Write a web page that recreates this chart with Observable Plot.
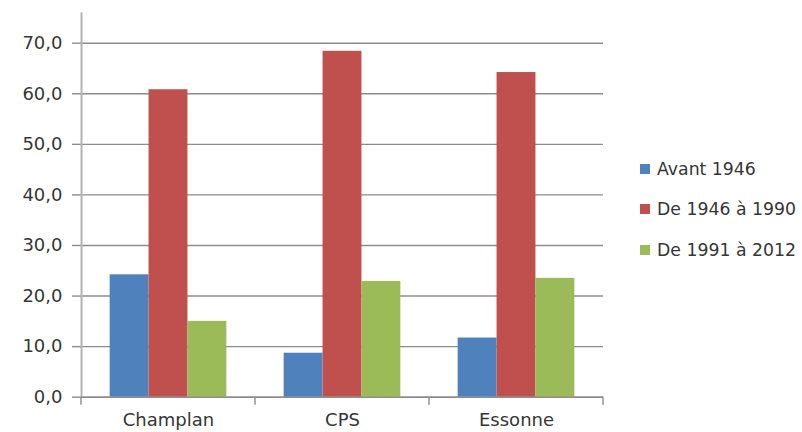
<!DOCTYPE html>
<html>
<head>
<meta charset="utf-8">
<script src="https://cdn.jsdelivr.net/npm/d3@7"></script>
<script src="https://cdn.jsdelivr.net/npm/@observablehq/plot@0.6"></script>
<style>
  html, body { margin: 0; padding: 0; background: #fff; }
  #wrap { position: relative; width: 802px; height: 432px; overflow: hidden; }
  #legend { position: absolute; left: 640px; top: 149px; font-family: "DejaVu Sans", sans-serif; font-size: 17.3px; color: #363636; }
  .row { display: flex; align-items: center; height: 40.3px; white-space: nowrap; }
  .sw { width: 10px; height: 10px; margin-right: 7px; flex: none; }
</style>
</head>
<body>
<div id="wrap"></div>
<script>
const categories = ["Champlan", "CPS", "Essonne"];
const series = ["Avant 1946", "De 1946 à 1990", "De 1991 à 2012"];
const avant1946 = [24.2, 8.7, 11.7];
const de1946a1990 = [60.8, 68.4, 64.2];
const de1991a2012 = [15.0, 22.9, 23.5];
const yTicks = [0, 10, 20, 30, 40, 50, 60, 70];
const colors = ["#4F81BD", "#C0504D", "#9BBB59"];

const seriesValues = [avant1946, de1946a1990, de1991a2012];
const rows = [];
series.forEach((s, si) => categories.forEach((c, ci) => rows.push({cat: c, series: s, si, value: seriesValues[si][ci]})));

const gridColor = "#8c8c8c";
const textColor = "#363636";
const band = 174, barW = 38.9;
function insets(i) {
  const left = band / 2 - 1.5 * barW + i * barW;
  return {insetLeft: left, insetRight: band - left - barW};
}

const barMarks = series.map((s, i) =>
  Plot.barY(rows.filter(d => d.si === i), {x: "cat", y: "value", fill: "series", ...insets(i)})
);

const boundaryTicks = (index, scales) => {
  const x = scales.x, y = scales.y;
  const g = d3.create("svg:g").attr("stroke", gridColor).attr("stroke-width", 1.4);
  const bw = x.bandwidth();
  const edges = categories.map(c => x(c)).concat([x(categories[categories.length - 1]) + bw]);
  const y0 = y(0);
  for (const e of edges) g.append("line").attr("x1", e).attr("x2", e).attr("y1", y0).attr("y2", y0 + 8);
  return g.node();
};

const chart = Plot.plot({
  width: 802,
  height: 432,
  marginLeft: 81,
  marginRight: 199,
  marginTop: 13,
  marginBottom: 35.3,
  x: {domain: categories, padding: 0, axis: null},
  y: {domain: [0, 70], range: [396.7, 42.7], axis: null},
  color: {domain: series, range: colors},
  style: {fontFamily: "DejaVu Sans", fontSize: "18px", color: textColor, background: "white"},
  marks: [
    Plot.gridY(yTicks, {stroke: gridColor, strokeOpacity: 1, strokeWidth: 1.4}),
    Plot.axisY({ticks: yTicks, tickFormat: d => d.toFixed(1).replace(".", ","), tickSize: 9, tickPadding: 10, stroke: gridColor, strokeWidth: 1.4, label: null, fontSize: 18, fill: textColor}),
    ...barMarks,
    Plot.frame({anchor: "left", stroke: "#b4b4b4", strokeWidth: 2}),
    Plot.ruleY([0], {stroke: gridColor, strokeWidth: 1.4}),
    boundaryTicks,
    Plot.axisX({tickSize: 0, tickPadding: 16, label: null, fontSize: 18, fill: textColor})
  ]
});

const wrap = document.getElementById("wrap");
wrap.appendChild(chart);
const legend = document.createElement("div");
legend.id = "legend";
series.forEach((s, i) => {
  const r = document.createElement("div");
  r.className = "row";
  const sw = document.createElement("span");
  sw.className = "sw";
  sw.style.background = colors[i];
  const t = document.createElement("span");
  t.textContent = s;
  r.appendChild(sw); r.appendChild(t);
  legend.appendChild(r);
});
wrap.appendChild(legend);
</script>
</body>
</html>
